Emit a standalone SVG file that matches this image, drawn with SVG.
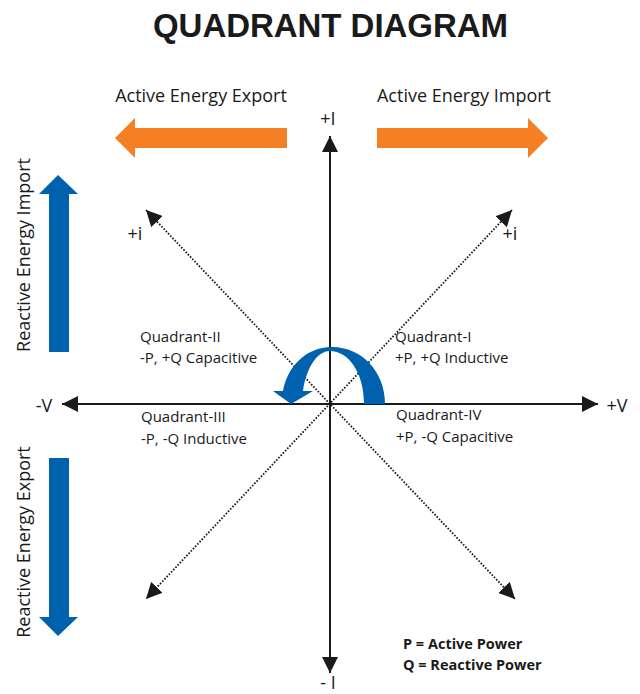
<svg xmlns="http://www.w3.org/2000/svg" width="640" height="694" viewBox="0 0 640 694">
<style>
.t{font-family:"Open Sans","Noto Sans","Liberation Sans",sans-serif;fill:#1a1a1a}
.q{font-size:15px}
.h{font-size:18px}
.b{font-weight:bold;font-size:14.5px}
.ax{stroke:#1a1a1a;stroke-width:2;fill:none}
.dg{stroke:#1a1a1a;stroke-width:1.8;stroke-dasharray:1.6 1.6;fill:none}
.or{fill:#F58024}
.bl{fill:#0061AF}
</style>
<defs>
<marker id="ah" viewBox="0 0 16 16" refX="16" refY="8" markerWidth="16" markerHeight="16" markerUnits="userSpaceOnUse" orient="auto-start-reverse">
<path d="M0,0 L16,8 L0,16 Z" fill="#1a1a1a"/>
</marker>
</defs>
<rect width="640" height="694" fill="#fff"/>
<text x="330.5" y="37" text-anchor="middle" font-family="Liberation Sans,Arial,sans-serif" font-weight="bold" font-size="33" fill="#1a1a1a" textLength="355" lengthAdjust="spacing">QUADRANT DIAGRAM</text>

<g id="active-export">
<polygon class="or" points="115,138 135,118 135,128 287,128 287,148 135,148 135,158"/>
<text class="t h" x="201" y="102" text-anchor="middle">Active Energy Export</text>
</g>
<g id="active-import">
<polygon class="or" points="377,128 528,128 528,118 548,138 528,158 528,148 377,148"/>
<text class="t h" x="464" y="102" text-anchor="middle">Active Energy Import</text>
</g>
<g id="reactive-import">
<polygon class="bl" points="58,175 78,194 69,194 69,352 49,352 49,194 39,194"/>
<text class="t h" transform="translate(30,255) rotate(-90)" text-anchor="middle">Reactive Energy Import</text>
</g>
<g id="reactive-export">
<polygon class="bl" points="49,458 69,458 69,617 78,617 58,636 39,617 49,617"/>
<text class="t h" transform="translate(30,542) rotate(-90)" text-anchor="middle">Reactive Energy Export</text>
</g>

<g id="connectors">
<line class="ax" x1="330" y1="673" x2="330" y2="136" marker-start="url(#ah)" marker-end="url(#ah)"/>
<line class="ax" x1="62" y1="404" x2="598" y2="404" marker-start="url(#ah)" marker-end="url(#ah)"/>
<line class="dg" x1="146" y1="210" x2="515" y2="599" marker-start="url(#ah)" marker-end="url(#ah)"/>
<line class="dg" x1="512" y1="210" x2="146" y2="599" marker-start="url(#ah)" marker-end="url(#ah)"/>
</g>

<g id="rotation-arrow">
<path class="bl" d="M385,404 C385,372 362,347 332,347 C305,347 287,368 283,391 L273,391 L291,404 L313,391 L303,391 C306,370 316,351 330,351 C348,351 364,372 364,404 Z"/>
</g>

<g id="axis-labels">
<text class="t h" x="328" y="125" text-anchor="middle">+I</text>
<text class="t h" x="328" y="689" text-anchor="middle">- I</text>
<text class="t h" x="44" y="412" text-anchor="middle">-V</text>
<text class="t h" x="617" y="412" text-anchor="middle">+V</text>
<text class="t h" x="135" y="240" text-anchor="middle">+i</text>
<text class="t h" x="510" y="240" text-anchor="middle">+i</text>
</g>

<g id="quadrant-II">
<text class="t q" x="140" y="342">Quadrant-II</text>
<text class="t q" x="140" y="363">-P, +Q Capacitive</text>
</g>
<g id="quadrant-I">
<text class="t q" x="395" y="342">Quadrant-I</text>
<text class="t q" x="395" y="363">+P, +Q Inductive</text>
</g>
<g id="quadrant-III">
<text class="t q" x="141" y="422">Quadrant-III</text>
<text class="t q" x="141" y="444">-P, -Q Inductive</text>
</g>
<g id="quadrant-IV">
<text class="t q" x="396" y="420">Quadrant-IV</text>
<text class="t q" x="396" y="442">+P, -Q Capacitive</text>
</g>

<g id="legend">
<text class="t b" x="403" y="649">P = Active Power</text>
<text class="t b" x="403" y="670">Q = Reactive Power</text>
</g>
</svg>
